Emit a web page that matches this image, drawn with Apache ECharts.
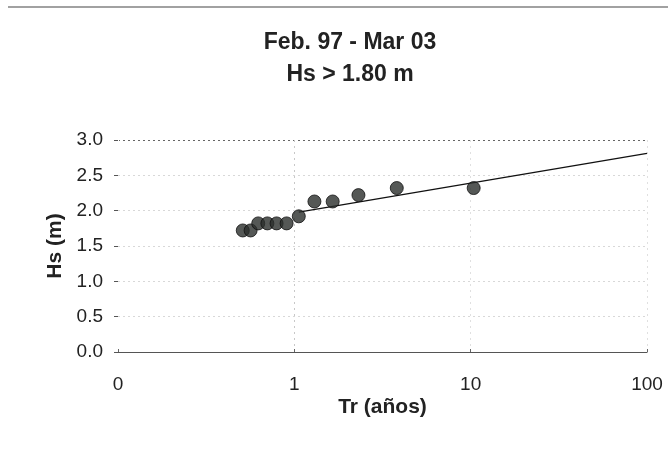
<!DOCTYPE html>
<html>
<head>
<meta charset="utf-8">
<script src="https://cdn.jsdelivr.net/npm/echarts@6/dist/echarts.min.js"></script>
<style>
html,body{margin:0;padding:0;background:#fff;}
#chart{width:668px;height:468px;}
</style>
</head>
<body>
<div id="chart"></div>
<script>
// Observed return periods (Tr, years) and wave heights (Hs, m)
const trValues = [0.51, 0.565, 0.624, 0.703, 0.793, 0.904, 1.06, 1.30, 1.65, 2.31, 3.81, 10.4];
const hsValues = [1.72, 1.72, 1.82, 1.82, 1.82, 1.82, 1.92, 2.13, 2.13, 2.22, 2.32, 2.32];
// Fitted trend line end points
const trendTr = [1.06, 100];
const trendHs = [1.98, 2.81];
// Tick labels
const xTickLabels = ['0', '1', '10', '100'];
const xTickValues = [0.1, 1, 10, 100];
const yTickLabels = ['0.0', '0.5', '1.0', '1.5', '2.0', '2.5', '3.0'];

const chart = echarts.init(document.getElementById('chart'), null, {renderer: 'canvas'});
const font = '"Liberation Sans", Arial, sans-serif';

const option = {
  backgroundColor: '#fff',
  animation: false,
  title: {
    text: 'Feb. 97 - Mar 03\nHs > 1.80 m',
    left: 345,
    top: 22,
    textAlign: 'center',
    textStyle: {
      fontFamily: font,
      fontWeight: 'bold',
      fontSize: 23,
      lineHeight: 32,
      color: '#222'
    }
  },
  graphic: [{
    type: 'line',
    shape: {x1: 8, y1: 7, x2: 668, y2: 7},
    style: {stroke: '#444', lineWidth: 1.2}
  }],
  grid: {left: 118, right: 21, top: 140, bottom: 116, containLabel: false},
  xAxis: {
    type: 'log',
    logBase: 10,
    min: 0.1,
    max: 100,
    name: 'Tr (años)',
    nameLocation: 'middle',
    nameGap: 45,
    nameTextStyle: {fontFamily: font, fontWeight: 'bold', fontSize: 21, color: '#222'},
    axisLine: {show: true, onZero: false, lineStyle: {color: '#555', width: 1.2}},
    axisTick: {show: true, inside: true, length: 3, lineStyle: {color: '#666'}},
    axisLabel: {
      fontFamily: font, fontSize: 19, color: '#222', margin: 23,
      formatter: function (v) {
        for (let i = 0; i < xTickValues.length; i++) {
          if (Math.abs(Math.log10(v) - Math.log10(xTickValues[i])) < 1e-6) return xTickLabels[i];
        }
        return '';
      }
    },
    splitLine: {show: true, lineStyle: {color: ['#fff', '#c8c8c8', '#e0e0e0', '#e0e0e0'], type: [2, 4], width: 1}},
    minorTick: {show: false}
  },
  yAxis: {
    type: 'value',
    min: 0,
    max: 3,
    interval: 0.5,
    name: 'Hs (m)',
    nameLocation: 'middle',
    nameGap: 52,
    nameRotate: 90,
    nameTextStyle: {fontFamily: font, fontWeight: 'bold', fontSize: 21, color: '#222'},
    axisLine: {show: false},
    axisTick: {show: true, inside: false, length: 4, lineStyle: {color: '#555'}},
    axisLabel: {
      fontFamily: font, fontSize: 19, color: '#222', margin: 15,
      formatter: function (v) { return yTickLabels[Math.round(v / 0.5)]; }
    },
    splitLine: {show: true, lineStyle: {color: ['#555', '#d8d8d8', '#d8d8d8', '#d8d8d8', '#d8d8d8', '#d8d8d8', '#666'], type: [2, 3], width: 1}}
  },
  series: [
    {
      type: 'line',
      data: trendTr.map((t, i) => [t, trendHs[i]]),
      showSymbol: false,
      symbol: 'none',
      lineStyle: {color: '#111', width: 1.4},
      z: 2
    },
    {
      type: 'scatter',
      data: trValues.map((t, i) => [t, hsValues[i]]),
      symbol: 'circle',
      symbolSize: 13,
      itemStyle: {color: '#2a2e2c', borderColor: '#111', borderWidth: 1},
      z: 3
    }
  ]
};
chart.setOption(option);
</script>
</body>
</html>
